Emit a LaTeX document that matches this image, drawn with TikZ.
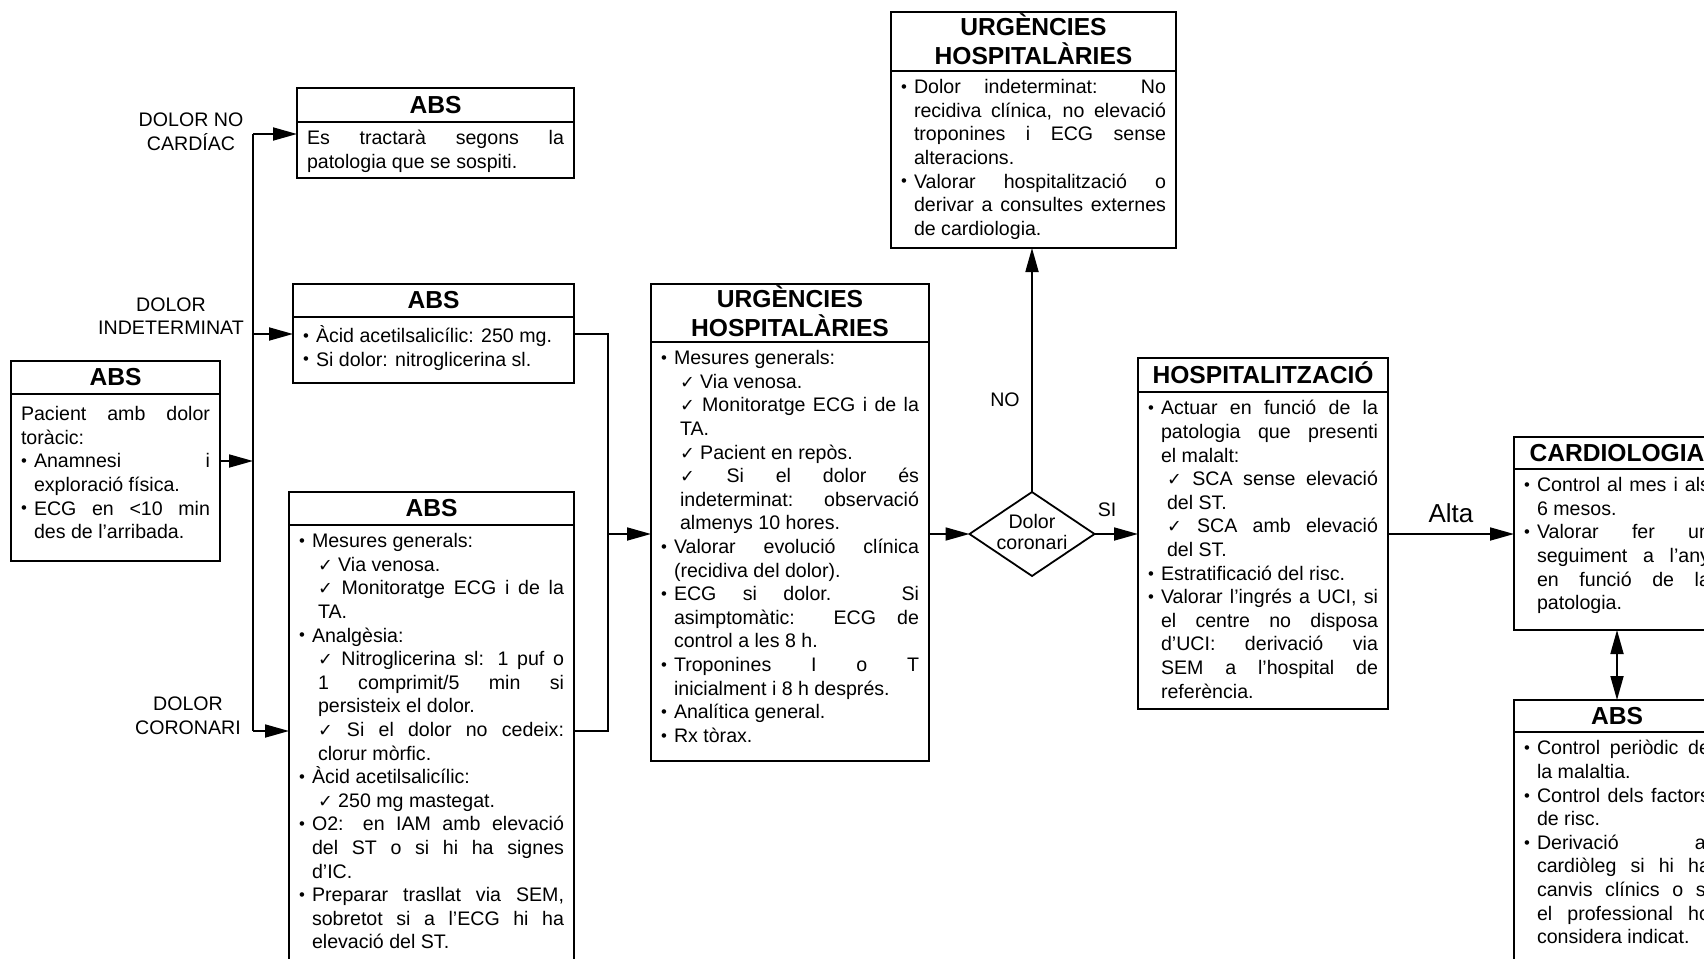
\documentclass[tikz,border=0pt]{standalone}
\usepackage{fontspec}
\setmainfont{Liberation Sans}
\newfontfamily\symf{DejaVu Sans}
\usepackage{xcolor}
\usepackage{tikz}
\usetikzlibrary{
  arrows.meta,
  shapes.geometric,
  positioning
}
\tolerance=10000 \hbadness=10000 \vbadness=10000 \hyphenpenalty=10000
\newlength\bulind \setlength\bulind{6.5pt}
\newcommand{\bul}{\par\hangindent=\bulind\hangafter=1\noindent\makebox[\bulind][l]{\raisebox{.1ex}{\scalebox{.85}{•}}}}
\newcommand{\chk}{\par\hangindent=9.5pt\hangafter=0\noindent{\symf\scalebox{.9}{✓}}\ }
\newcommand{\boxtext}[3]{\parbox[t][#2][t]{#1}{\vspace*{1.2pt}#3}}

\begin{document}
\begin{tikzpicture}[x=0.5pt, y=-0.5pt, font=\fontsize{9.8}{11.8}\selectfont,
  hdr/.style={draw, line width=.9pt, inner sep=0pt, outer sep=0pt, anchor=north, align=center, font=\fontsize{12.3}{14.5}\selectfont\bfseries},
  bdy/.style={draw, line width=.9pt, inner xsep=5pt, inner ysep=3pt, outer sep=0pt, below=0pt of #1},
  arr/.style={line width=.9pt, -{Triangle[length=12pt, width=6.5pt]}},
  lnk/.style={line width=.9pt},
  dec/.style={draw, diamond, line width=.9pt, inner sep=0pt, outer sep=0pt, minimum width=62.5pt, minimum height=42pt, font=\fontsize{9.8}{10.4}\selectfont}]
  \useasboundingbox (0,0) rectangle (1704,959);
  \clip (0,0) rectangle (1704,959);

  \foreach \nm/\cx/\ty/\w/\h/\ttl in {absL/115.5/361/104.5/16.5/ABS, abs1/435.5/88/138.5/17/ABS, abs2/433.5/284/140.5/16.5/ABS, abs3/431.5/492/142.5/16.5/ABS, urgM/790/284/139/29/{\raisebox{0pt}[8.8pt]{URGÈNCIES}\\HOSPITALÀRIES}, urgT/1033.5/12/142.5/29.5/{\raisebox{0pt}[8.8pt]{URGÈNCIES}\\HOSPITALÀRIES}, hosp/1263/358/125/17/{\raisebox{0pt}[8.8pt]{HOSPITALITZACIÓ}}, card/1617/437/103/16/CARDIOLOGIA, absR/1617/700/103/16/ABS}
    \node[hdr, minimum width=\w pt, minimum height=\h pt] (\nm) at (\cx,\ty) {\ttl};

  \node[bdy=absL] (absLb) {\boxtext{94.5pt}{77.5pt}{\vspace*{2pt}Pacient amb dolor\linebreak toràcic:
    \bul Anamnesi i\linebreak exploració física.
    \bul ECG en <10 min\linebreak des de l’arribada.}};
  \node[bdy=abs1] (abs1b) {\boxtext{128.5pt}{22pt}{Es tractarà segons la\linebreak patologia que se sospiti.}};
  \node[bdy=abs2] (abs2b) {\boxtext{130.5pt}{27pt}{\bul Àcid acetilsalicílic: 250 mg.
    \bul Si dolor: nitroglicerina sl.}};
  \node[bdy=abs3] (abs3b) {\boxtext{132.5pt}{244pt}{\bul Mesures generals:
    \chk Via venosa.
    \chk Monitoratge ECG i de la\linebreak TA.
    \bul Analgèsia:
    \chk Nitroglicerina sl: 1 puf o\linebreak 1 comprimit/5 min si\linebreak persisteix el dolor.
    \chk Si el dolor no cedeix:\linebreak clorur mòrfic.
    \bul Àcid acetilsalicílic:
    \chk 250 mg mastegat.
    \bul O2: en IAM amb elevació\linebreak del ST o si hi ha signes\linebreak d’IC.
    \bul Preparar trasllat via SEM,\linebreak sobretot si a l’ECG hi ha\linebreak elevació del ST.}};
  \node[bdy=urgM] (urgMb) {\boxtext{129pt}{203.5pt}{\bul Mesures generals:
    \chk Via venosa.
    \chk Monitoratge ECG i de la\linebreak TA.
    \chk Pacient en repòs.
    \chk Si el dolor és\linebreak indeterminat: observació\linebreak almenys 10 hores.
    \bul Valorar evolució clínica\linebreak (recidiva del dolor).
    \bul ECG si dolor. Si\linebreak asimptomàtic: ECG de\linebreak control a les 8 h.
    \bul Troponines I o T\linebreak inicialment i 8 h després.
    \bul Analítica general.
    \bul Rx tòrax.}};
  \node[bdy=urgT] (urgTb) {\boxtext{132.5pt}{82.5pt}{\bul Dolor indeterminat: No\linebreak recidiva clínica, no elevació\linebreak troponines i ECG sense\linebreak alteracions.
    \bul Valorar hospitalització o\linebreak derivar a consultes externes\linebreak de cardiologia.}};
  \node[bdy=hosp] (hospb) {\boxtext{115pt}{152.5pt}{\bul Actuar en funció de la\linebreak patologia que presenti\linebreak el malalt:
    \chk SCA sense elevació\linebreak del ST.
    \chk SCA amb elevació\linebreak del ST.
    \bul Estratificació del risc.
    \bul Valorar l’ingrés a UCI, si\linebreak el centre no disposa\linebreak d’UCI: derivació via\linebreak SEM a l’hospital de\linebreak referència.}};
  \node[bdy=card] (cardb) {\boxtext{93pt}{74.5pt}{\bul Control al mes i als\linebreak 6 mesos.
    \bul Valorar fer un\linebreak seguiment a l’any\linebreak en funció de la\linebreak patologia.}};
  \node[bdy=absR] (absRb) {\boxtext{93pt}{144pt}{\bul Control periòdic de\linebreak la malaltia.
    \bul Control dels factors\linebreak de risc.
    \bul Derivació al\linebreak cardiòleg si hi ha\linebreak canvis clínics o si\linebreak el professional ho\linebreak considera indicat.}};

  \node[dec] (dc) at (1032,534) {\makebox[0pt]{\raisebox{-3pt}[0pt][0pt]{\begin{tabular}{@{}c@{}}Dolor\\coronari\end{tabular}}}};

  \node[align=center] (lnc) at (191,131.5) {DOLOR NO\\CARDÍAC};
  \node[align=center] (lind) at (171,316) {DOLOR\\INDETERMINAT};
  \node[align=center] (lcor) at (188,716) {DOLOR\\CORONARI};
  \node (lno) at (1005,400) {NO};
  \node (lsi) at (1107,510) {SI};

  \coordinate (t1) at (253,134);
  \coordinate (t2) at (253,334);
  \coordinate (t3) at (253,731);
  \coordinate (tL) at (253,461);
  \coordinate (mg) at (608,534);
  \draw[lnk] (t1) -- (t3);
  \draw[arr] (absLb.east |- tL) -- (tL);
  \foreach \t/\b in {t1/abs1b, t2/abs2b, t3/abs3b}
    \draw[arr] (\t) -- (\t -| \b.west);
  \draw[lnk] (abs2b.east |- t2) -| (mg);
  \draw[lnk] (abs3b.east |- t3) -| (mg);
  \draw[arr] (mg) -- (mg -| urgMb.west);
  \draw[arr] (dc.west -| urgMb.east) -- (dc.west);
  \draw[arr] (dc.north) -- (dc.north |- urgTb.south);
  \draw[arr] (dc.east) -- (dc.east -| hospb.west);
  \draw[arr] (hospb.east |- dc) -- node[above=2pt, font=\fontsize{13}{15}\selectfont] (alta) {Alta} (cardb.west |- dc);
  \draw[line width=.9pt, {Triangle[length=12pt, width=6.5pt]}-{Triangle[length=12pt, width=6.5pt]}] (cardb.south) -- (absR.north);
\end{tikzpicture}
\end{document}
